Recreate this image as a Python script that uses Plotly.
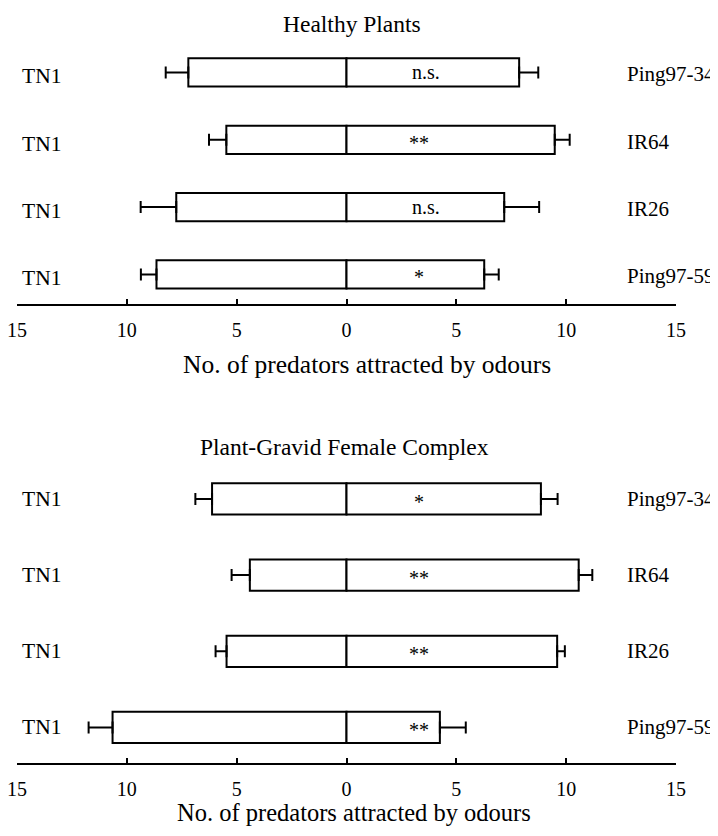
import plotly.graph_objects as go

# ---------------- data ----------------
varieties = ["Ping97-34", "IR64", "IR26", "Ping97-59"]
control = "TN1"
tick_vals = [-15, -10, -5, 0, 5, 10, 15]
tick_text = ["15", "10", "5", "0", "5", "10", "15"]

# Healthy plants
tn1_healthy = [7.2, 5.47, 7.75, 8.65]
tn1_healthy_err = [1.03, 0.79, 1.62, 0.71]
var_healthy = [7.86, 9.48, 7.18, 6.27]
var_healthy_err = [0.87, 0.68, 1.59, 0.66]
sig_healthy = ["n.s.", "**", "n.s.", "*"]

# Plant-gravid female complex
tn1_gravid = [6.12, 4.4, 5.46, 10.65]
tn1_gravid_err = [0.76, 0.83, 0.5, 1.09]
var_gravid = [8.85, 10.57, 9.59, 4.25]
var_gravid_err = [0.76, 0.62, 0.35, 1.18]
sig_gravid = ["*", "**", "**", "**"]

titles = ["Healthy Plants", "Plant-Gravid Female Complex"]
xlabel = "No. of predators attracted by odours"

FONT = "Liberation Serif, Times New Roman, serif"
OFF = 8  # page body margin offset
W, H = 718 - OFF, 836 - 2 * OFF
ML, MR = 17 - OFF, 42
PW = W - ML - MR


def px_x(p):
    return (p - OFF - ML) / PW


def px_y(p):
    return 1 - (p - OFF) / H


fig = go.Figure()

panels = [
    dict(tn1=tn1_healthy, tn1e=tn1_healthy_err, v=var_healthy, ve=var_healthy_err,
         sig=sig_healthy, xa="x", ya="y", width=0.42, lab_shift=-4),
    dict(tn1=tn1_gravid, tn1e=tn1_gravid_err, v=var_gravid, ve=var_gravid_err,
         sig=sig_gravid, xa="x2", ya="y2", width=0.41, lab_shift=0),
]

annotations = []
for p in panels:
    n = len(varieties)
    bar_style = dict(color="white", line=dict(color="black", width=2))
    fig.add_trace(go.Bar(
        y=varieties, x=[-v for v in p["tn1"]], orientation="h",
        width=p["width"], marker=bar_style, xaxis=p["xa"], yaxis=p["ya"],
        showlegend=False,
        error_x=dict(type="data", symmetric=False, array=[0] * n,
                     arrayminus=p["tn1e"], color="black", thickness=2, width=6),
    ))
    fig.add_trace(go.Bar(
        y=varieties, x=p["v"], orientation="h",
        width=p["width"], marker=bar_style, xaxis=p["xa"], yaxis=p["ya"],
        showlegend=False,
        error_x=dict(type="data", symmetric=False, array=p["ve"],
                     arrayminus=[0] * n, color="black", thickness=2, width=6),
    ))
    for i, name in enumerate(varieties):
        annotations.append(dict(
            x=-14.85, y=name, xref=p["xa"], yref=p["ya"], text=control,
            showarrow=False, xanchor="left", yanchor="middle", yshift=p["lab_shift"],
            font=dict(family=FONT, size=21.5, color="black")))
        annotations.append(dict(
            x=12.68, y=name, xref=p["xa"], yref=p["ya"], text=name,
            showarrow=False, xanchor="left", yanchor="middle", yshift=p["lab_shift"] / 2,
            font=dict(family=FONT, size=21, color="black")))
        s = p["sig"][i]
        annotations.append(dict(
            x=3.6 if s == "n.s." else 3.3, y=name, xref=p["xa"], yref=p["ya"],
            text=s, showarrow=False, xanchor="center", yanchor="middle",
            yshift=0 if s == "n.s." else -3,
            font=dict(family=FONT, size=20, color="black")))

# titles and axis labels
annotations.append(dict(x=px_x(351.5), y=px_y(23.5), xref="paper", yref="paper",
                        text=titles[0], showarrow=False, xanchor="center", yanchor="middle",
                        font=dict(family=FONT, size=23.5, color="black")))
annotations.append(dict(x=px_x(344.3), y=px_y(447), xref="paper", yref="paper",
                        text=titles[1], showarrow=False, xanchor="center", yanchor="middle",
                        font=dict(family=FONT, size=23.5, color="black")))
annotations.append(dict(x=px_x(366.5), y=px_y(365), xref="paper", yref="paper",
                        text=xlabel, showarrow=False, xanchor="center", yanchor="middle",
                        font=dict(family=FONT, size=25.5, color="black")))
annotations.append(dict(x=px_x(354), y=0, xref="paper", yref="paper",
                        text=xlabel, showarrow=False, xanchor="center", yanchor="bottom",
                        font=dict(family=FONT, size=24.5, color="black")))

xaxis_common = dict(
    range=[-15, 15], tickvals=tick_vals, ticktext=tick_text,
    showline=True, linecolor="black", linewidth=2,
    ticks="inside", ticklen=5, tickwidth=2, tickcolor="black",
    showgrid=False, zeroline=False, fixedrange=True,
    tickfont=dict(family=FONT, size=20, color="black"),
    ticklabelstandoff=7, ticklabeloverflow="allow",
)
yaxis_common = dict(
    visible=False, type="category", categoryorder="array",
    categoryarray=list(reversed(varieties)), showgrid=False, zeroline=False,
)

fig.update_layout(
    width=W, height=H,
    margin=dict(l=ML, r=MR, t=0, b=0, pad=0),
    paper_bgcolor="white", plot_bgcolor="white",
    barmode="overlay",
    xaxis=dict(**xaxis_common, anchor="y", domain=[0, 1]),
    yaxis=dict(**yaxis_common, anchor="x", domain=[px_y(304), px_y(38.8)], range=[-0.44, 3.5]),
    xaxis2=dict(**xaxis_common, anchor="y2", domain=[0, 1]),
    yaxis2=dict(**yaxis_common, anchor="x2", domain=[px_y(763.3), px_y(460.8)], range=[-0.47, 3.5]),
    annotations=annotations,
    font=dict(family=FONT, color="black"),
)

fig.write_html("out.html")
